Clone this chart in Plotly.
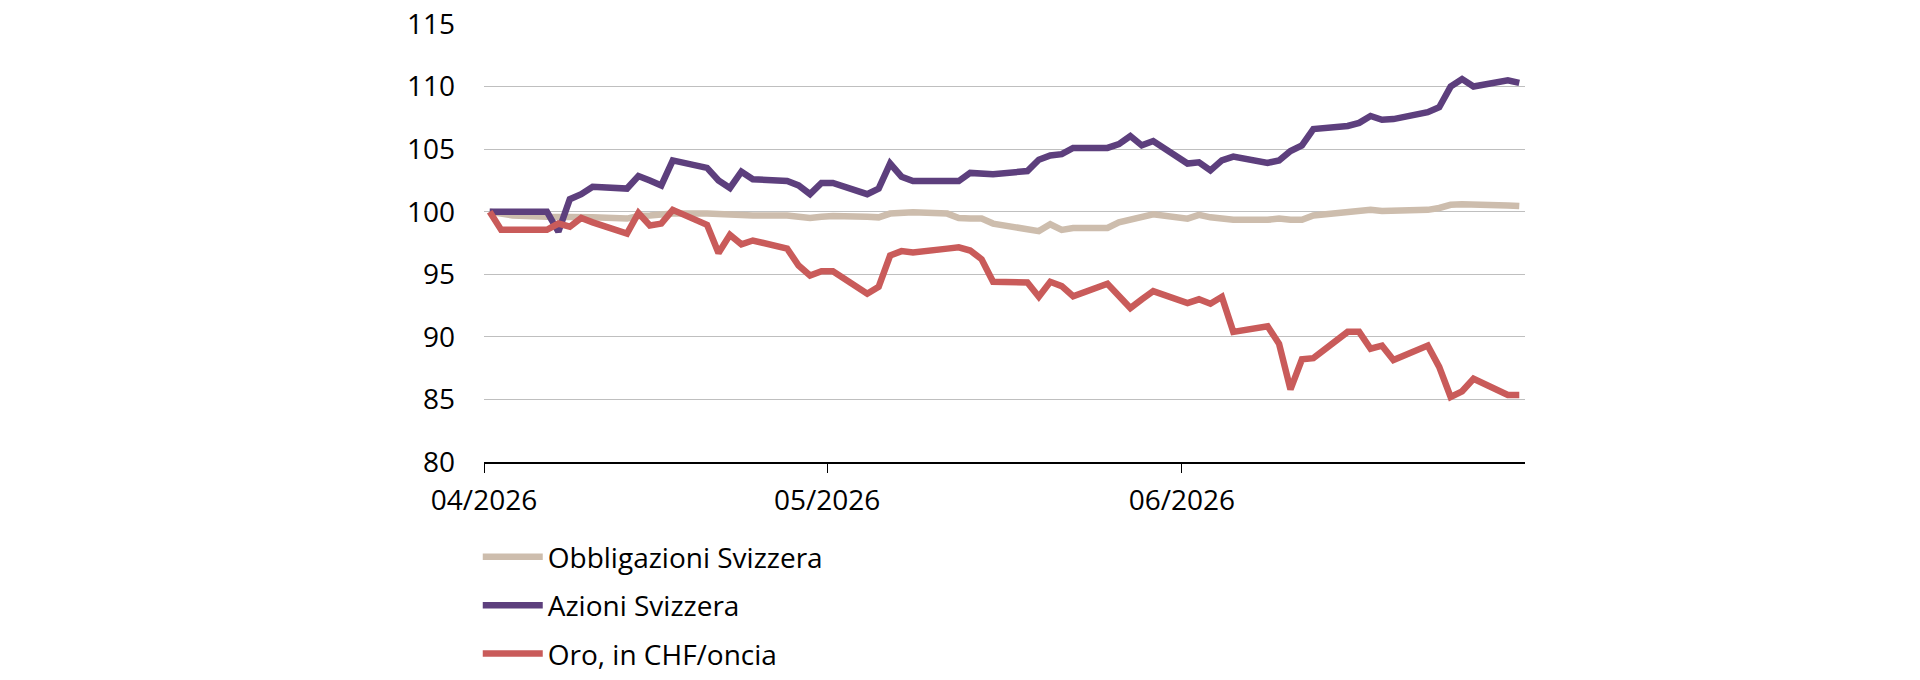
import pandas as pd
import plotly.graph_objects as go

# ---- data ----
dates = [
    "2026-04-01", "2026-04-02", "2026-04-03", "2026-04-06", "2026-04-07", "2026-04-08", "2026-04-09", "2026-04-10",
    "2026-04-13", "2026-04-14", "2026-04-15", "2026-04-16", "2026-04-17",
    "2026-04-20", "2026-04-21", "2026-04-22", "2026-04-23", "2026-04-24",
    "2026-04-27", "2026-04-28", "2026-04-29", "2026-04-30", "2026-05-01",
    "2026-05-04", "2026-05-05", "2026-05-06", "2026-05-07", "2026-05-08",
    "2026-05-11", "2026-05-12", "2026-05-13", "2026-05-14", "2026-05-15",
    "2026-05-18", "2026-05-19", "2026-05-20", "2026-05-21", "2026-05-22",
    "2026-05-25", "2026-05-26", "2026-05-27", "2026-05-28", "2026-05-29",
    "2026-06-01", "2026-06-02", "2026-06-03", "2026-06-04", "2026-06-05",
    "2026-06-08", "2026-06-09", "2026-06-10", "2026-06-11", "2026-06-12",
    "2026-06-15", "2026-06-16", "2026-06-17", "2026-06-18", "2026-06-19",
    "2026-06-22", "2026-06-23", "2026-06-24", "2026-06-25", "2026-06-26",
    "2026-06-29", "2026-06-30",
]

obbligazioni = [
    100, 99.8, 99.7, 99.6, 99.6, 99.6, 99.6, 99.55,
    99.45, 99.65, 99.7, 99.75, 99.85,
    99.85, 99.8, 99.75, 99.7, 99.7,
    99.7, 99.6, 99.5, 99.6, 99.65,
    99.6, 99.55, 99.85, 99.95, 99.95,
    99.85, 99.5, 99.45, 99.45, 99.05,
    98.65, 98.45, 99.0, 98.55, 98.7,
    98.7, 99.15, 99.4, 99.6, 99.8,
    99.45, 99.75, 99.55, 99.5, 99.35,
    99.35, 99.45, 99.35, 99.35, 99.7,
    99.9, 100.0, 100.15, 100.05, 100.05,
    100.15, 100.3, 100.55, 100.6, 100.6,
    100.5, 100.45,
]

azioni = [
    100, 100, 100, 100, 98.4, 101.0, 101.4, 102.0,
    101.85, 102.85, 102.5, 102.1, 104.1,
    103.5, 102.5, 101.9, 103.2, 102.6,
    102.45, 102.1, 101.4, 102.3, 102.3,
    101.4, 101.85, 103.85, 102.8, 102.45,
    102.45, 102.45, 103.1, 103.05, 103.0,
    103.25, 104.15, 104.5, 104.6, 105.1,
    105.1, 105.4, 106.05, 105.3, 105.65,
    103.85, 103.95, 103.3, 104.1, 104.4,
    103.9, 104.1, 104.85, 105.3, 106.6,
    106.85, 107.1, 107.65, 107.35, 107.4,
    107.95, 108.35, 110.0, 110.6, 110.0,
    110.5, 110.3,
]

oro = [
    100, 98.55, 98.55, 98.55, 99.05, 98.8, 99.5, 99.15,
    98.25, 99.9, 98.9, 99.05, 100.15,
    98.95, 96.7, 98.15, 97.4, 97.7,
    97.05, 95.7, 94.9, 95.25, 95.25,
    93.45, 94.0, 96.5, 96.85, 96.75,
    97.05, 97.15, 96.9, 96.2, 94.4,
    94.35, 93.2, 94.4, 94.05, 93.25,
    94.25, 93.3, 92.3, 93.0, 93.65,
    92.7, 93.0, 92.65, 93.2, 90.4,
    90.85, 89.45, 85.8, 88.2, 88.3,
    90.4, 90.4, 89.05, 89.3, 88.15,
    89.3, 87.6, 85.2, 85.65, 86.65,
    85.35, 85.35,
]

series_names = ["Obbligazioni Svizzera", "Azioni Svizzera", "Oro, in CHF/oncia"]
series_values = [obbligazioni, azioni, oro]
series_colors = ["#CDBDAD", "#5D3F7D", "#C95B5A"]

x_tick_dates = ["2026-04-01", "2026-05-01", "2026-06-01"]
x_tick_labels = ["04/2026", "05/2026", "06/2026"]
x_range = ["2026-04-01", "2026-07-01"]
y_ticks = [80, 85, 90, 95, 100, 105, 110, 115]

# points sit in the middle of each day slot (date axis, "between tick marks")
x_vals = pd.to_datetime(dates) + pd.Timedelta(hours=12)

FONT = "Open Sans, Segoe UI, DejaVu Sans, sans-serif"

fig = go.Figure()
for name, vals, col in zip(series_names, series_values, series_colors):
    fig.add_trace(go.Scatter(
        x=x_vals, y=vals, name=name, mode="lines",
        line=dict(color=col, width=6.5),
        legendgroup=name,
    ))

fig.update_layout(
    width=1920, height=680, autosize=False,
    margin=dict(l=484, r=395, t=24, b=218, pad=0, autoexpand=False),
    paper_bgcolor="white", plot_bgcolor="white",
    font=dict(family=FONT, size=28, color="#000000"),
    showlegend=True,
    legend=dict(
        orientation="v", x=-0.006, xanchor="left", y=-0.16, yanchor="top",
        font=dict(family=FONT, size=28, color="#000000"),
        itemwidth=60, tracegroupgap=9, bgcolor="rgba(0,0,0,0)",
        traceorder="grouped",
    ),
    xaxis=dict(
        type="date", range=x_range, automargin=False,
        tickvals=x_tick_dates, ticktext=x_tick_labels,
        ticks="outside", ticklen=9, tickwidth=1, tickcolor="#000000",
        showline=True, linecolor="#000000", linewidth=1.5,
        showgrid=False, zeroline=False,
        tickfont=dict(family=FONT, size=28, color="#000000"),
        ticklabelstandoff=4,
    ),
    yaxis=dict(
        range=[80, 115], tickvals=y_ticks, automargin=False,
        showgrid=True, gridcolor="#BFBFBF", gridwidth=1,
        zeroline=False, showline=False, ticks="",
        tickfont=dict(family=FONT, size=28, color="#000000"),
        ticklabelstandoff=28,
    ),
)

fig.write_html("out.html")
